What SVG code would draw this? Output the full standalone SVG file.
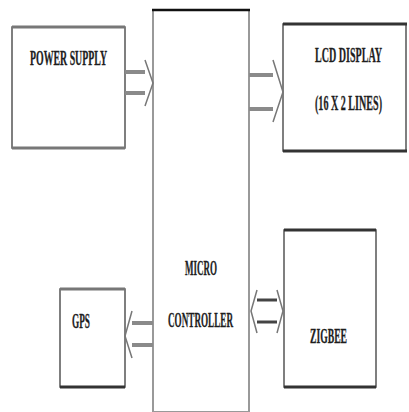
<svg xmlns="http://www.w3.org/2000/svg" width="409" height="412" viewBox="0 0 409 412">
<style>
.box{fill:#fff;stroke:#555;stroke-width:1.5}
.edge{stroke:#333;stroke-width:3}
.edgeg{stroke:#777;stroke-width:3}
.bar{stroke:#8a8a8a;stroke-width:4}
.chev{fill:none;stroke:#777;stroke-width:1.5}
.t{font-family:"Liberation Serif",serif;font-weight:bold;fill:#1e1e1e;font-size:20px;stroke:#1e1e1e;stroke-width:0.3}
</style>
<rect width="409" height="412" fill="#fff"/>
<g id="power-supply">
<rect class="box" x="12" y="27" width="113" height="121"/>
<line class="edgeg" x1="12" y1="27" x2="125" y2="27"/>
<line class="edgeg" x1="12" y1="148" x2="125" y2="148"/>
<text class="t" x="30" y="65" textLength="77" lengthAdjust="spacingAndGlyphs">POWER SUPPLY</text>
</g>
<g id="microcontroller">
<rect x="153" y="10" width="96" height="402" fill="#fff" stroke="#999" stroke-width="2"/>
<line x1="152" y1="10" x2="250" y2="10" stroke="#111" stroke-width="2.5"/>
<text class="t" x="185" y="275" textLength="32" lengthAdjust="spacingAndGlyphs">MICRO</text>
<text class="t" x="168" y="327" textLength="65" lengthAdjust="spacingAndGlyphs">CONTROLLER</text>
</g>
<g id="lcd-display">
<rect class="box" x="283" y="24" width="123" height="127"/>
<line class="edge" x1="283" y1="24" x2="407" y2="24"/>
<line class="edge" x1="283" y1="151" x2="407" y2="151"/>
<text class="t" transform="translate(315 62) scale(0.5 1)" x="0" y="0" textLength="134" lengthAdjust="spacingAndGlyphs">LCD DISPLAY</text>
<text class="t" transform="translate(315 110) scale(0.5 1)" x="0" y="0" textLength="134" lengthAdjust="spacingAndGlyphs">(16 X 2 LINES)</text>
</g>
<g id="zigbee">
<rect class="box" x="284" y="230" width="92" height="157"/>
<line class="edge" x1="284" y1="230" x2="376" y2="230"/>
<line class="edge" x1="284" y1="387" x2="376" y2="387"/>
<text class="t" x="310" y="343" textLength="37" lengthAdjust="spacingAndGlyphs">ZIGBEE</text>
</g>
<g id="gps">
<rect class="box" x="60" y="289" width="65" height="98"/>
<line class="edgeg" x1="60" y1="289" x2="125" y2="289"/>
<line class="edge" x1="60" y1="387" x2="125" y2="387"/>
<text class="t" x="72" y="328" textLength="18" lengthAdjust="spacingAndGlyphs">GPS</text>
</g>
<g id="connectors">
<line class="bar" x1="125" y1="72" x2="145" y2="72"/>
<line class="bar" x1="125" y1="93" x2="145" y2="93"/>
<polyline class="chev" points="145,60 153,83 145,106"/>
<line class="bar" x1="249" y1="75" x2="273" y2="75"/>
<line class="bar" x1="249" y1="109" x2="273" y2="109"/>
<polyline class="chev" points="273,60 283,92 273,122"/>
<line class="bar" x1="132" y1="323" x2="153" y2="323"/>
<line class="bar" x1="132" y1="345" x2="153" y2="345"/>
<polyline class="chev" points="132,311 125,336 132,358"/>
<line x1="257" y1="300" x2="277" y2="300" stroke="#444" stroke-width="3"/>
<line x1="257" y1="322" x2="277" y2="322" stroke="#444" stroke-width="3"/>
<polyline class="chev" points="257,290 251,311 257,333"/>
<polyline class="chev" points="277,290 283,311 277,333"/>
</g>
</svg>
